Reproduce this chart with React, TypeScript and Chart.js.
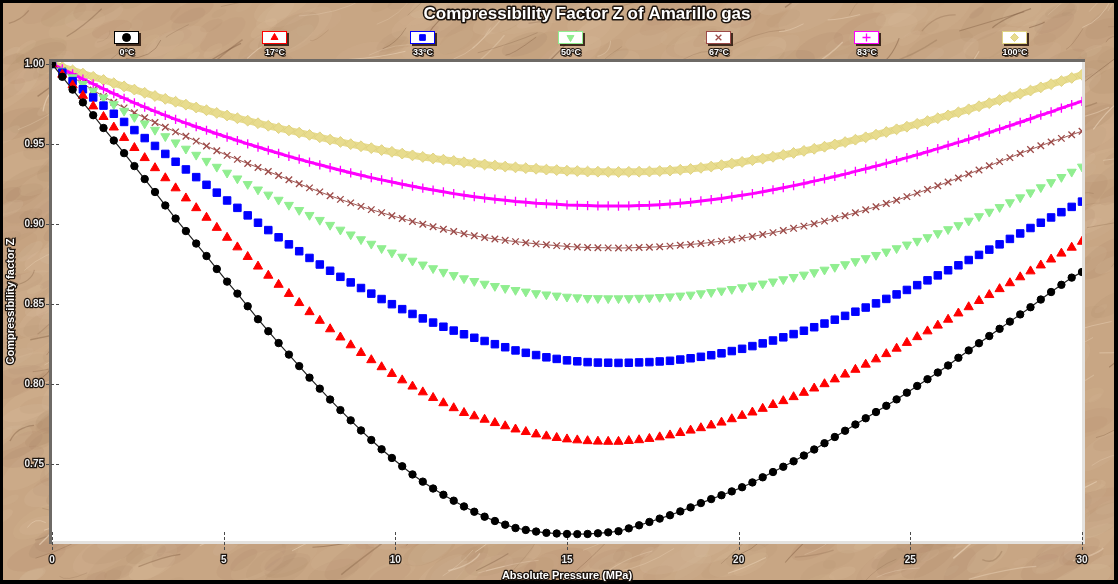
import React, { useEffect, useRef } from 'react';
import { Chart, registerables } from 'chart.js';
import { drawPoint } from 'chart.js/helpers';

Chart.register(...registerables);

// Absolute pressure, MPa
const pressures = [
  0, 0.3, 0.6, 0.9, 1.2, 1.5, 1.8, 2.1, 2.4, 2.7,
  3, 3.3, 3.6, 3.9, 4.2, 4.5, 4.8, 5.1, 5.4, 5.7,
  6, 6.3, 6.6, 6.9, 7.2, 7.5, 7.8, 8.1, 8.4, 8.7,
  9, 9.3, 9.6, 9.9, 10.2, 10.5, 10.8, 11.1, 11.4, 11.7,
  12, 12.3, 12.6, 12.9, 13.2, 13.5, 13.8, 14.1, 14.4, 14.7,
  15, 15.3, 15.6, 15.9, 16.2, 16.5, 16.8, 17.1, 17.4, 17.7,
  18, 18.3, 18.6, 18.9, 19.2, 19.5, 19.8, 20.1, 20.4, 20.7,
  21, 21.3, 21.6, 21.9, 22.2, 22.5, 22.8, 23.1, 23.4, 23.7,
  24, 24.3, 24.6, 24.9, 25.2, 25.5, 25.8, 26.1, 26.4, 26.7,
  27, 27.3, 27.6, 27.9, 28.2, 28.5, 28.8, 29.1, 29.4, 29.7,
  30,
];

// Compressibility factor Z at each pressure, one list per temperature
const z0C = [
  1.000, 0.992, 0.984, 0.976, 0.968, 0.960, 0.9522, 0.9443, 0.9362, 0.9281,
  0.920, 0.9116, 0.9034, 0.8956, 0.8878, 0.880, 0.8719, 0.864, 0.8565, 0.8486,
  0.8405, 0.833, 0.8256, 0.8184, 0.8112, 0.804, 0.7971, 0.7903, 0.7837, 0.7773,
  0.771, 0.765, 0.7592, 0.7538, 0.7486, 0.7435, 0.739, 0.7347, 0.7308, 0.7271,
  0.7235, 0.7202, 0.7171, 0.7144, 0.7121, 0.710, 0.7088, 0.7078, 0.707, 0.7066,
  0.7063, 0.7062, 0.7063, 0.7067, 0.7073, 0.708, 0.7098, 0.7117, 0.7138, 0.7159,
  0.718, 0.7204, 0.7229, 0.7256, 0.7281, 0.7305, 0.7329, 0.7355, 0.7385, 0.7417,
  0.745, 0.7483, 0.7517, 0.7553, 0.7591, 0.763, 0.7669, 0.7708, 0.7747, 0.7786,
  0.7825, 0.7864, 0.7904, 0.7946, 0.7988, 0.803, 0.8072, 0.8116, 0.8164, 0.821,
  0.8255, 0.83, 0.8345, 0.839, 0.8435, 0.848, 0.8528, 0.8575, 0.862, 0.8665,
  0.870,
];
const z17C = [
  1.000, 0.9934, 0.9868, 0.9802, 0.9736, 0.967, 0.9604, 0.9539, 0.9476, 0.9413,
  0.935, 0.9287, 0.9224, 0.9161, 0.910, 0.904, 0.8977, 0.8915, 0.8855, 0.8795,
  0.8735, 0.8678, 0.8621, 0.8564, 0.8507, 0.845, 0.8396, 0.8343, 0.8292, 0.8243,
  0.8195, 0.815, 0.8106, 0.8064, 0.8024, 0.7985, 0.7949, 0.7914, 0.7881, 0.785,
  0.782, 0.7799, 0.7778, 0.7757, 0.7737, 0.7717, 0.7701, 0.7686, 0.7674, 0.7664,
  0.7655, 0.7649, 0.7644, 0.7641, 0.764, 0.764, 0.7645, 0.765, 0.7658, 0.7668,
  0.768, 0.7695, 0.771, 0.7725, 0.7742, 0.776, 0.7781, 0.7802, 0.7823, 0.7846,
  0.787, 0.7894, 0.7919, 0.7946, 0.7973, 0.800, 0.803, 0.806, 0.809, 0.8122,
  0.8155, 0.8188, 0.8222, 0.8258, 0.8294, 0.833, 0.8366, 0.8403, 0.8442, 0.8481,
  0.852, 0.8557, 0.8594, 0.8631, 0.8668, 0.8705, 0.8742, 0.8779, 0.8816, 0.8853,
  0.889,
];
const z33C = [
  1.000, 0.9946, 0.9893, 0.9842, 0.9791, 0.974, 0.9689, 0.9638, 0.9587, 0.9537,
  0.9488, 0.9438, 0.9389, 0.9341, 0.9293, 0.9245, 0.9196, 0.9147, 0.9101, 0.9054,
  0.9008, 0.8962, 0.8917, 0.8873, 0.883, 0.8788, 0.8747, 0.8708, 0.867, 0.8635,
  0.860, 0.8565, 0.8531, 0.8499, 0.8468, 0.8438, 0.841, 0.8384, 0.8358, 0.8334,
  0.8311, 0.8289, 0.8269, 0.8249, 0.823, 0.821, 0.8195, 0.8181, 0.8167, 0.8157,
  0.8148, 0.8142, 0.8137, 0.8134, 0.8133, 0.8132, 0.8133, 0.8135, 0.8137, 0.8141,
  0.8145, 0.8153, 0.8161, 0.817, 0.818, 0.8192, 0.8206, 0.822, 0.8237, 0.8254,
  0.8272, 0.8292, 0.8312, 0.8333, 0.8355, 0.8378, 0.8402, 0.8426, 0.8452, 0.8478,
  0.8504, 0.8532, 0.856, 0.8588, 0.8618, 0.8648, 0.8679, 0.8711, 0.8742, 0.8775,
  0.8807, 0.884, 0.8873, 0.8907, 0.8941, 0.8975, 0.9008, 0.9041, 0.9074, 0.9107,
  0.914,
];
const z50C = [
  1.000, 0.9958, 0.9916, 0.9874, 0.9832, 0.979, 0.9748, 0.9707, 0.9668, 0.9628,
  0.9588, 0.9548, 0.9509, 0.947, 0.9432, 0.9394, 0.9357, 0.932, 0.9284, 0.9249,
  0.9215, 0.9183, 0.9151, 0.9119, 0.9087, 0.9056, 0.9025, 0.8994, 0.8964, 0.8934,
  0.8904, 0.8876, 0.8848, 0.8821, 0.8795, 0.877, 0.8746, 0.8723, 0.870, 0.868,
  0.866, 0.8643, 0.8626, 0.8612, 0.8599, 0.8587, 0.8577, 0.8567, 0.8559, 0.8552,
  0.8545, 0.8541, 0.8537, 0.8536, 0.8535, 0.8535, 0.8536, 0.8538, 0.854, 0.8543,
  0.8547, 0.8552, 0.8558, 0.8566, 0.8574, 0.8583, 0.8593, 0.8604, 0.8615, 0.8627,
  0.864, 0.8654, 0.8668, 0.8683, 0.8698, 0.8714, 0.8731, 0.8748, 0.8767, 0.8786,
  0.8806, 0.8827, 0.8848, 0.8871, 0.8894, 0.8917, 0.8942, 0.8967, 0.8992, 0.902,
  0.9048, 0.9076, 0.9105, 0.9135, 0.9166, 0.9197, 0.9229, 0.9261, 0.9293, 0.9326,
  0.9358,
];
const z67C = [
  1.000, 0.9959, 0.9918, 0.9878, 0.9837, 0.9797, 0.9761, 0.9726, 0.9695, 0.9664,
  0.9634, 0.9605, 0.9576, 0.9548, 0.9518, 0.9488, 0.9458, 0.9429, 0.9404, 0.9378,
  0.9353, 0.9328, 0.9303, 0.9277, 0.9252, 0.9226, 0.9201, 0.9177, 0.9154, 0.9132,
  0.911, 0.909, 0.9071, 0.9052, 0.9034, 0.9016, 0.8999, 0.8983, 0.8967, 0.8953,
  0.8939, 0.8927, 0.8916, 0.8906, 0.8898, 0.889, 0.8883, 0.8876, 0.887, 0.8865,
  0.886, 0.8856, 0.8853, 0.8852, 0.8851, 0.885, 0.8851, 0.8853, 0.8855, 0.8858,
  0.8862, 0.8867, 0.8872, 0.8878, 0.8885, 0.8893, 0.8902, 0.8912, 0.8922, 0.8934,
  0.8946, 0.8959, 0.8973, 0.8987, 0.9002, 0.9018, 0.9035, 0.9052, 0.907, 0.9089,
  0.9108, 0.9128, 0.9149, 0.9171, 0.9193, 0.9216, 0.9239, 0.9263, 0.9288, 0.9313,
  0.9338, 0.9364, 0.939, 0.9415, 0.9441, 0.9466, 0.9489, 0.9513, 0.9535, 0.9558,
  0.958,
];
const z83C = [
  1.000, 0.9969, 0.9938, 0.9906, 0.9876, 0.9845, 0.9815, 0.9786, 0.9757, 0.973,
  0.9704, 0.9679, 0.9654, 0.9631, 0.9608, 0.9586, 0.9564, 0.9543, 0.9522, 0.9501,
  0.9481, 0.9461, 0.9442, 0.9423, 0.9405, 0.9387, 0.937, 0.9353, 0.9336, 0.932,
  0.9305, 0.929, 0.9276, 0.9263, 0.9249, 0.9236, 0.9224, 0.9212, 0.9201, 0.919,
  0.918, 0.9171, 0.9162, 0.9155, 0.9148, 0.9141, 0.9136, 0.913, 0.9126, 0.9123,
  0.9119, 0.9117, 0.9115, 0.9113, 0.9113, 0.9112, 0.9113, 0.9115, 0.9117, 0.9121,
  0.9125, 0.913, 0.9136, 0.9144, 0.9152, 0.916, 0.917, 0.918, 0.919, 0.9202,
  0.9214, 0.9227, 0.924, 0.9253, 0.9268, 0.9282, 0.9297, 0.9312, 0.9329, 0.9345,
  0.9362, 0.9379, 0.9397, 0.9415, 0.9433, 0.9452, 0.9471, 0.9491, 0.951, 0.953,
  0.9551, 0.9572, 0.9593, 0.9615, 0.9636, 0.9658, 0.968, 0.9701, 0.9724, 0.9746,
  0.9767,
];
const z100C = [
  1.000, 0.998, 0.996, 0.994, 0.992, 0.990, 0.988, 0.986, 0.984, 0.982,
  0.980, 0.9782, 0.9764, 0.9746, 0.9728, 0.9711, 0.9694, 0.9678, 0.9661, 0.9646,
  0.963, 0.9614, 0.9599, 0.9585, 0.9571, 0.9557, 0.9542, 0.9527, 0.9513, 0.9499,
  0.9486, 0.9474, 0.9462, 0.9451, 0.944, 0.9429, 0.9419, 0.941, 0.9402, 0.9394,
  0.9386, 0.9379, 0.9372, 0.9365, 0.9359, 0.9354, 0.9349, 0.9345, 0.934, 0.9337,
  0.9333, 0.9331, 0.9328, 0.9327, 0.9326, 0.9325, 0.9326, 0.9327, 0.9328, 0.9331,
  0.9334, 0.9339, 0.9344, 0.9351, 0.9359, 0.9368, 0.9378, 0.9388, 0.9399, 0.9409,
  0.942, 0.9432, 0.9444, 0.9457, 0.947, 0.9483, 0.9497, 0.9512, 0.9527, 0.9542,
  0.9558, 0.9575, 0.9592, 0.9608, 0.9626, 0.9643, 0.9661, 0.9679, 0.9698, 0.9717,
  0.9736, 0.9755, 0.9775, 0.9794, 0.9814, 0.9834, 0.9854, 0.9874, 0.9893, 0.9913,
  0.9933,
];

const seriesLabels = ['0°C', '17°C', '33°C', '50°C', '67°C', '83°C', '100°C'];
const seriesValues = [z0C, z17C, z33C, z50C, z67C, z83C, z100C];

const xTickValues = [0, 5, 10, 15, 20, 25, 30];
const yTickValues = [0.75, 0.8, 0.85, 0.9, 0.95, 1.0];

const chartTitle = 'Compressibility Factor Z of Amarillo gas';
const xAxisTitle = 'Absolute Pressure (MPa)';
const yAxisTitle = 'Compressibility factor Z';

// Marker and line styling for each temperature curve
const seriesStyles = [
  { fill: '#000000', stroke: '#000000', line: '#222222', pointStyle: 'circle', radius: 3.7, rotation: 0, showLine: true, lineWidth: 1.2, pointBorder: 1 },
  { fill: '#ff0000', stroke: '#ff0000', line: '#ff0000', pointStyle: 'triangle', radius: 5.3, rotation: 0, showLine: false, lineWidth: 0, pointBorder: 1 },
  { fill: '#0000ff', stroke: '#0000ff', line: '#0000ff', pointStyle: 'rect', radius: 5.3, rotation: 0, showLine: false, lineWidth: 0, pointBorder: 1 },
  { fill: '#90ee90', stroke: '#90ee90', line: '#90ee90', pointStyle: 'triangle', radius: 5.2, rotation: 180, showLine: false, lineWidth: 0, pointBorder: 1 },
  { fill: '#9c4a48', stroke: '#9c4a48', line: '#a05a56', pointStyle: 'crossRot', radius: 4.6, rotation: 0, showLine: true, lineWidth: 1, pointBorder: 1.3 },
  { fill: '#ff00ff', stroke: '#ff00ff', line: '#ff00ff', pointStyle: 'cross', radius: 4.6, rotation: 0, showLine: true, lineWidth: 3, pointBorder: 1.3 },
  { fill: '#e8dc8e', stroke: '#e0d382', line: '#e8dc8e', pointStyle: 'rectRot', radius: 5.4, rotation: 0, showLine: true, lineWidth: 7, pointBorder: 1 },
];

const W = 1118;
const H = 584;

function outlinedText(
  ctx: CanvasRenderingContext2D,
  text: string,
  x: number,
  y: number,
  font: string,
  align: CanvasTextAlign = 'center',
  lw = 2.6,
) {
  ctx.save();
  ctx.font = font;
  ctx.textAlign = align;
  ctx.textBaseline = 'middle';
  ctx.lineJoin = 'round';
  ctx.fillStyle = 'rgba(20,10,5,0.7)';
  ctx.fillText(text, x + 1.5, y + 1.5);
  ctx.strokeStyle = '#1c140e';
  ctx.lineWidth = lw;
  ctx.strokeText(text, x, y);
  ctx.fillStyle = '#ffffff';
  ctx.fillText(text, x, y);
  ctx.restore();
}

// Sandstone-like backdrop behind the plot
function paintStone(ctx: CanvasRenderingContext2D) {
  let seed = 912367;
  const rnd = () => {
    seed = (Math.imul(seed, 1664525) + 1013904223) >>> 0;
    return seed / 4294967296;
  };
  ctx.fillStyle = '#c8a684';
  ctx.fillRect(0, 0, W, H);
  for (let i = 0; i < 1400; i++) {
    const x = rnd() * W;
    const y = rnd() * H;
    const r = 4 + rnd() * 18;
    const light = rnd() < 0.5;
    ctx.fillStyle = light
      ? `rgba(226,200,170,${0.06 + rnd() * 0.1})`
      : `rgba(160,122,92,${0.05 + rnd() * 0.08})`;
    ctx.beginPath();
    ctx.ellipse(x, y, r * 1.7, r * 0.7, -0.45 + (rnd() - 0.5) * 0.4, 0, Math.PI * 2);
    ctx.fill();
  }
  for (let i = 0; i < 420; i++) {
    const x = rnd() * W;
    const y = rnd() * H;
    const len = 15 + rnd() * 60;
    const ang = -0.5 + (rnd() - 0.5) * 0.8;
    const x2 = x + Math.cos(ang) * len;
    const y2 = y + Math.sin(ang) * len;
    const cx = (x + x2) / 2 + (rnd() - 0.5) * 20;
    const cy = (y + y2) / 2 + (rnd() - 0.5) * 20;
    ctx.strokeStyle = rnd() < 0.55
      ? `rgba(115,80,54,${0.18 + rnd() * 0.25})`
      : `rgba(238,216,190,${0.3 + rnd() * 0.3})`;
    ctx.lineWidth = 0.5 + rnd() * 1;
    ctx.beginPath();
    ctx.moveTo(x, y);
    ctx.quadraticCurveTo(cx, cy, x2, y2);
    ctx.stroke();
  }
}

const backdropPlugin = {
  id: 'stoneBackdrop',
  beforeDraw(chart: any) {
    const { ctx, chartArea: a } = chart;
    ctx.save();
    paintStone(ctx);
    // outer frame
    ctx.fillStyle = '#000000';
    ctx.fillRect(0, 0, W, 3);
    ctx.fillRect(0, 0, 3, H);
    ctx.fillRect(W - 4, 0, 4, H);
    ctx.fillRect(0, H - 4, W, 4);
    // inset plot panel
    ctx.fillStyle = '#6e6a66';
    ctx.fillRect(a.left - 3, a.top - 3, a.right - a.left + 6, 3);
    ctx.fillRect(a.left - 3, a.top - 3, 3, a.bottom - a.top + 6);
    ctx.fillStyle = '#e4e2df';
    ctx.fillRect(a.left, a.bottom, a.right - a.left + 3, 3);
    ctx.fillRect(a.right, a.top, 3, a.bottom - a.top + 3);
    ctx.fillStyle = '#ffffff';
    ctx.fillRect(a.left, a.top, a.right - a.left, a.bottom - a.top);
    ctx.restore();
  },
  beforeDatasetsDraw(chart: any) {
    const { ctx, chartArea: a, scales } = chart;
    ctx.save();
    ctx.strokeStyle = '#4a4a4a';
    ctx.lineWidth = 1;
    ctx.setLineDash([3, 2]);
    for (const v of yTickValues) {
      const y = Math.round(scales.y.getPixelForValue(v)) + 0.5;
      ctx.beginPath();
      ctx.moveTo(a.left - 6, y);
      ctx.lineTo(a.left + 9, y);
      ctx.stroke();
    }
    for (const v of xTickValues) {
      const x = Math.round(scales.x.getPixelForValue(v)) + 0.5;
      ctx.beginPath();
      ctx.moveTo(x, a.bottom - 9);
      ctx.lineTo(x, a.bottom + 10);
      ctx.stroke();
    }
    ctx.restore();
  },
  afterDraw(chart: any) {
    const { ctx, chartArea: a } = chart;
    outlinedText(ctx, chartTitle, 587, 14, 'bold 17px "Liberation Sans", Arial, sans-serif', 'center', 3);

    // legend: framed marker swatch with the temperature below
    seriesStyles.forEach((s, i) => {
      const cx = 127 + 148 * i;
      const top = 31;
      ctx.save();
      ctx.fillStyle = 'rgba(40,20,10,0.85)';
      ctx.fillRect(cx - 11, top + 2, 25, 13);
      ctx.fillStyle = '#ffffff';
      ctx.fillRect(cx - 13, top, 25, 13);
      ctx.strokeStyle = s.stroke;
      ctx.lineWidth = 1;
      ctx.strokeRect(cx - 12.5, top + 0.5, 24, 12);
      ctx.fillStyle = s.fill;
      ctx.strokeStyle = s.stroke;
      ctx.lineWidth = s.pointBorder;
      drawPoint(ctx, { pointStyle: s.pointStyle, radius: 4, rotation: s.rotation, borderWidth: s.pointBorder } as any, cx - 0.5, top + 6.5);
      ctx.restore();
      outlinedText(ctx, seriesLabels[i], cx, 53, 'bold 9px "Liberation Sans", Arial, sans-serif', 'center', 2.2);
    });

    outlinedText(ctx, xAxisTitle, (a.left + a.right) / 2, 576, 'bold 11px "Liberation Sans", Arial, sans-serif', 'center', 2.4);
    ctx.save();
    ctx.translate(11, (a.top + a.bottom) / 2);
    ctx.rotate(-Math.PI / 2);
    outlinedText(ctx, yAxisTitle, 0, 0, 'bold 11px "Liberation Sans", Arial, sans-serif', 'center', 2.4);
    ctx.restore();
  },
};

export default function App() {
  const canvasRef = useRef<HTMLCanvasElement>(null);

  useEffect(() => {
    document.body.style.margin = '0';
    const canvas = canvasRef.current;
    if (!canvas) return;

    const datasets = seriesValues.map((vals, i) => {
      const s = seriesStyles[i];
      return {
        label: seriesLabels[i],
        data: pressures.map((p, k) => ({ x: p, y: vals[k] })),
        showLine: s.showLine,
        borderColor: s.line,
        borderWidth: s.lineWidth,
        backgroundColor: s.fill,
        pointStyle: s.pointStyle,
        pointRadius: s.radius,
        pointRotation: s.rotation,
        pointBackgroundColor: s.fill,
        pointBorderColor: s.stroke,
        pointBorderWidth: s.pointBorder,
        tension: 0,
        fill: false,
      };
    });

    const tickFont = { family: '"Liberation Sans", Arial, sans-serif', size: 10, weight: 'bold' as const };

    const chart = new Chart(canvas, {
      type: 'line',
      data: { datasets: datasets as any },
      options: {
        responsive: false,
        animation: false,
        devicePixelRatio: 1,
        events: [],
        layout: { padding: { top: 62, left: 0, right: 36, bottom: 0 } },
        plugins: {
          legend: { display: false },
          title: { display: false },
          tooltip: { enabled: false },
        },
        scales: {
          x: {
            type: 'linear',
            min: 0,
            max: 30,
            afterFit: (s: any) => { s.height = 43; },
            afterBuildTicks: (s: any) => { s.ticks = xTickValues.map((v) => ({ value: v })); },
            grid: { display: false, drawTicks: false },
            border: { display: false },
            ticks: {
              padding: 13,
              color: '#eeeeee',
              font: tickFont,
              textStrokeColor: '#1c140e',
              textStrokeWidth: 2.5,
              maxRotation: 0,
              autoSkip: false,
              callback: (v: any) => String(v),
            },
          },
          y: {
            type: 'linear',
            min: 0.7019,
            max: 1.00125,
            afterFit: (s: any) => { s.width = 52; },
            afterBuildTicks: (s: any) => { s.ticks = yTickValues.map((v) => ({ value: v })); },
            grid: { display: false, drawTicks: false },
            border: { display: false },
            ticks: {
              padding: 8,
              color: '#eeeeee',
              font: tickFont,
              textStrokeColor: '#1c140e',
              textStrokeWidth: 2.5,
              autoSkip: false,
              callback: (v: any) => Number(v).toFixed(2),
            },
          },
        },
      },
      plugins: [backdropPlugin],
    });

    return () => chart.destroy();
  }, []);

  return (
    <canvas
      ref={canvasRef}
      width={W}
      height={H}
      style={{ display: 'block', width: W, height: H }}
    />
  );
}
